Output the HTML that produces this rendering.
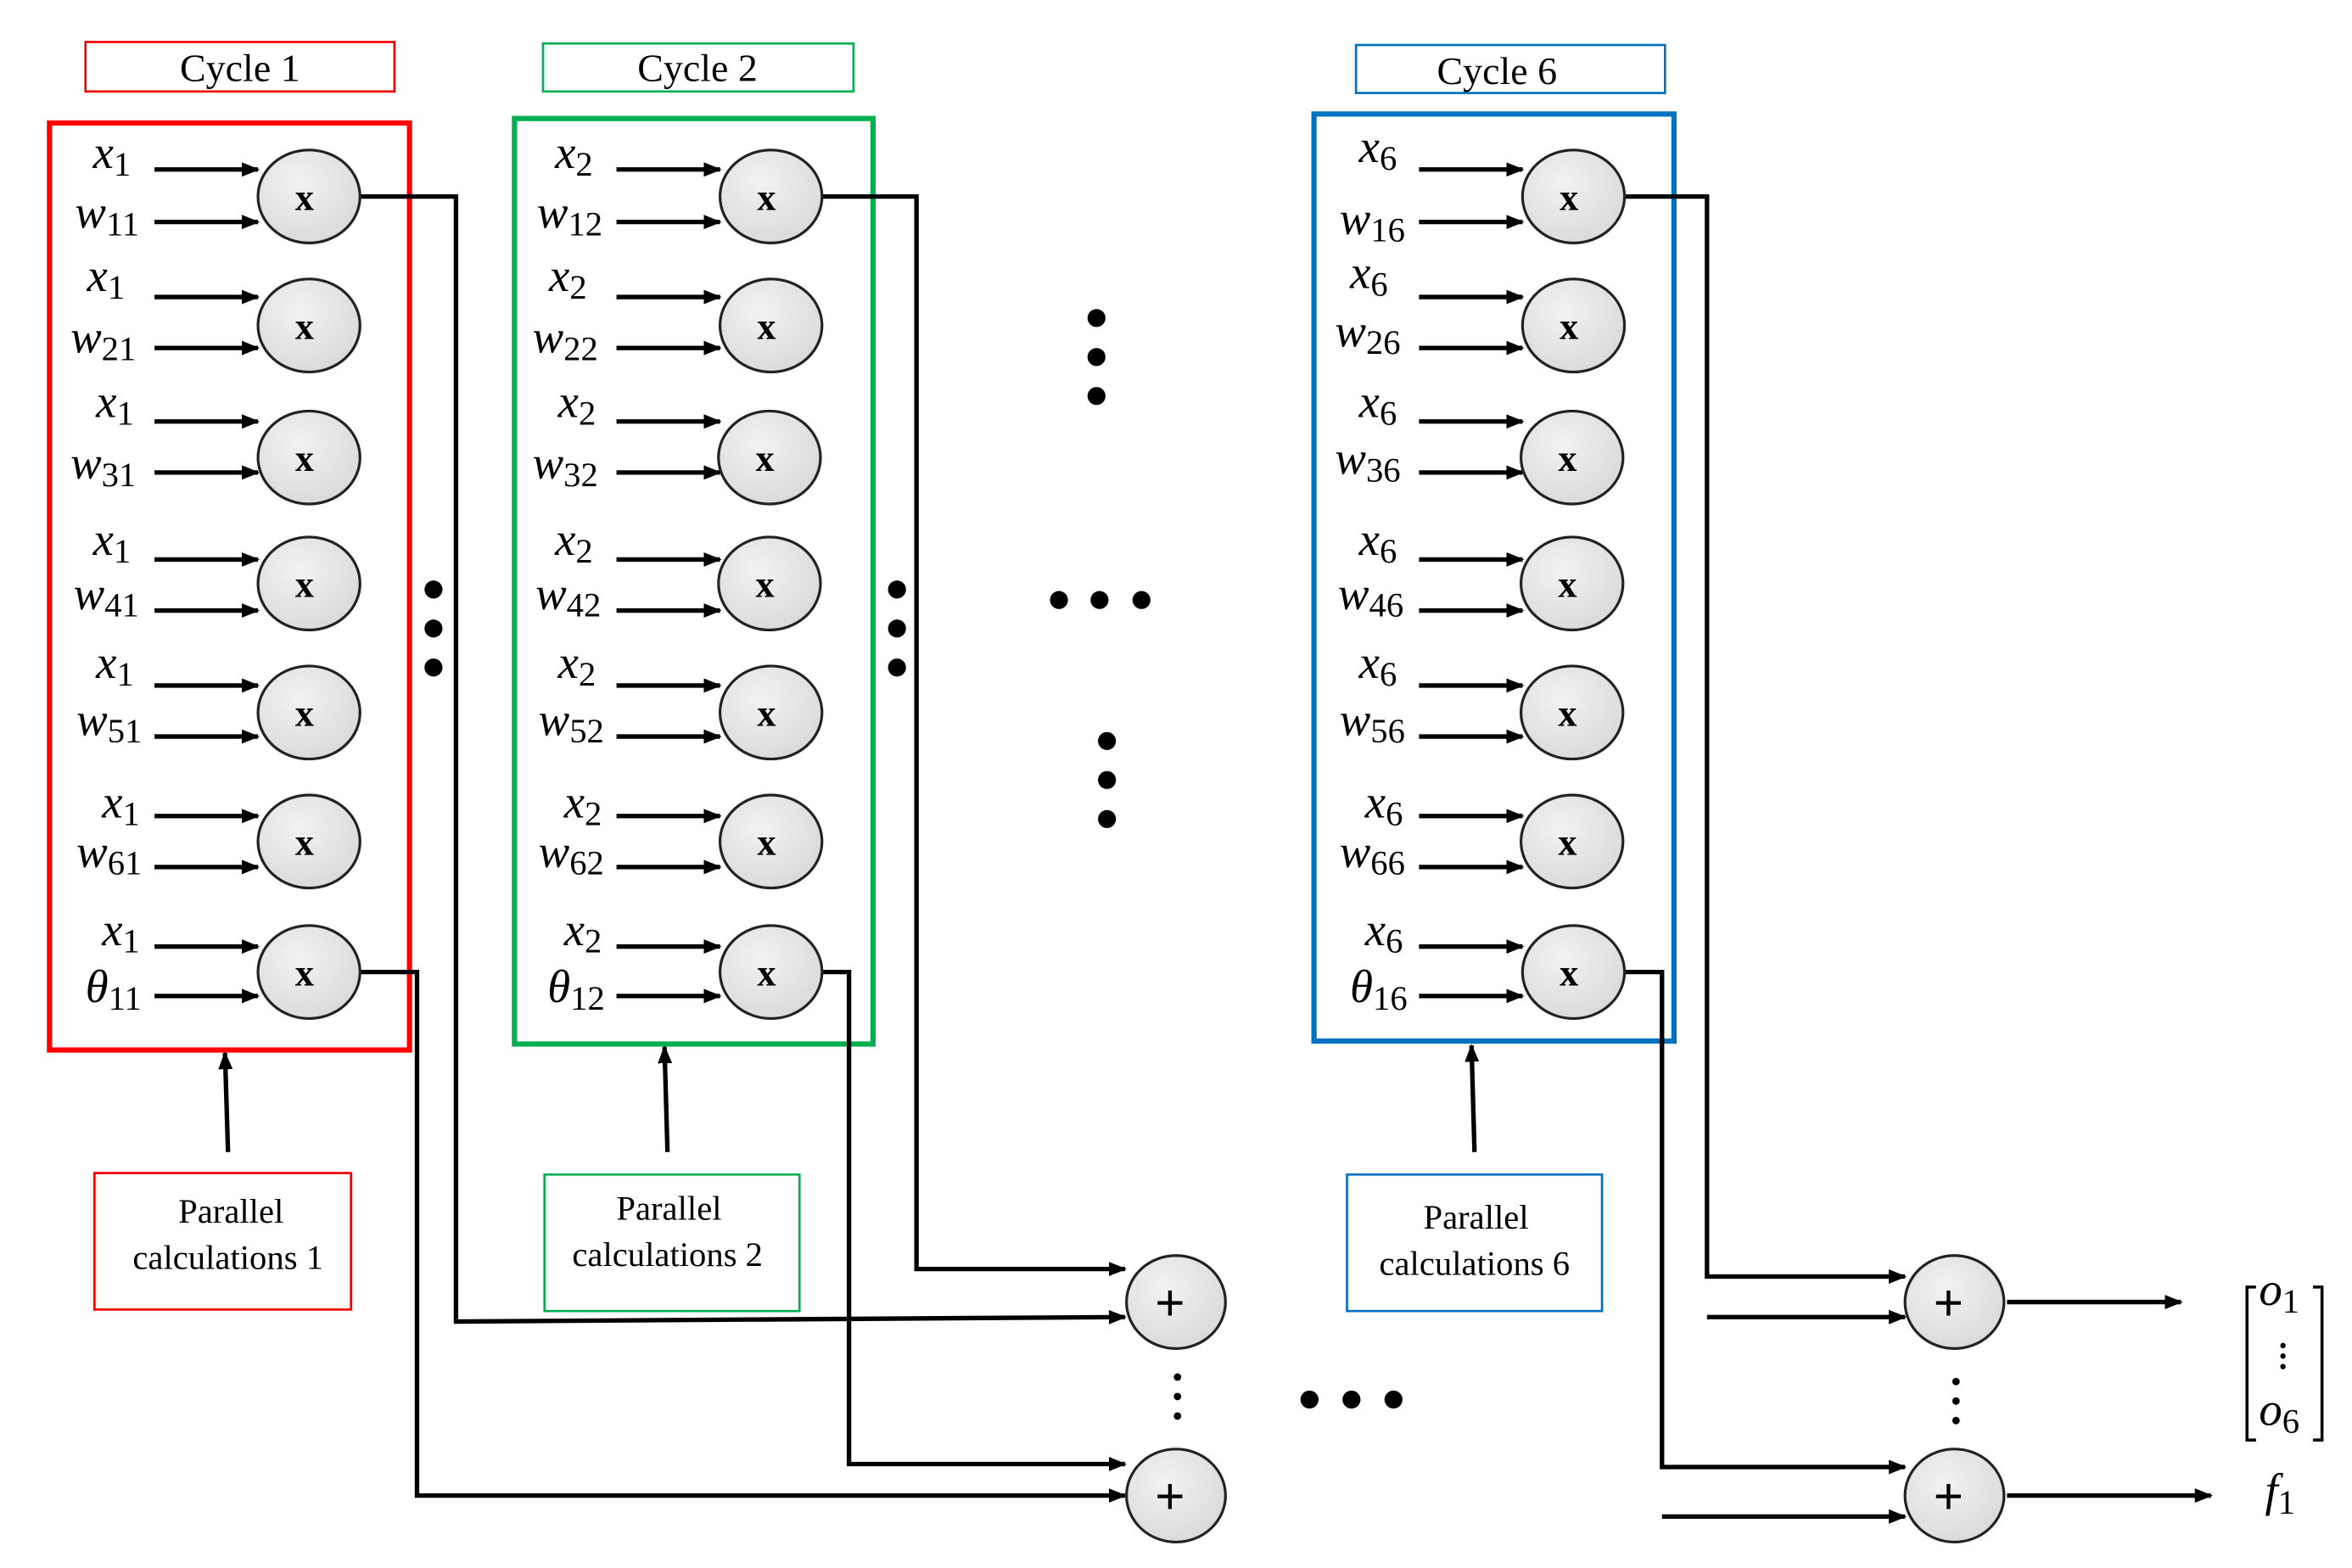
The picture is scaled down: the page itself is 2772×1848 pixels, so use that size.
<!DOCTYPE html>
<html><head><meta charset="utf-8"><style>
html,body{margin:0;padding:0;background:#fff}
svg{display:block}
.lab{font-family:"Liberation Serif",serif;font-style:italic;font-size:31px;fill:#000}
.sub{font-style:normal;font-size:23px}
.mx{font-family:"Liberation Serif",serif;font-weight:bold;font-size:25px;fill:#000}
.t{font-family:"Liberation Serif",serif;font-size:26px;fill:#000}
.p{font-family:"Liberation Serif",serif;font-size:23px;fill:#000}
</style></head><body>
<svg width="2772" height="1848" viewBox="0 0 1568 1045.3" preserveAspectRatio="none" xmlns="http://www.w3.org/2000/svg">
<defs>
<marker id="a" viewBox="0 0 10 10" refX="9" refY="5" markerWidth="4" markerHeight="4" orient="auto" markerUnits="strokeWidth"><path d="M0,1 L10,5 L0,9 z" fill="#000"/></marker>
<radialGradient id="g" cx="0.4" cy="0.35" r="0.7"><stop offset="0" stop-color="#f2f2f2"/><stop offset="1" stop-color="#d9d9d9"/></radialGradient>
</defs>
<rect x="57" y="28" width="206" height="33" fill="none" stroke="#e00" stroke-width="1.5"/>
<text class="t" x="160" y="54" text-anchor="middle">Cycle 1</text>
<rect x="362" y="29" width="207" height="32" fill="none" stroke="#00b050" stroke-width="1.5"/>
<text class="t" x="465" y="54" text-anchor="middle">Cycle 2</text>
<rect x="904" y="30" width="206" height="32" fill="none" stroke="#0070c0" stroke-width="1.5"/>
<text class="t" x="998" y="56" text-anchor="middle">Cycle 6</text>
<rect x="33" y="82" width="240" height="618" fill="none" stroke="#f00" stroke-width="3.5"/>
<rect x="343" y="79" width="239" height="617" fill="none" stroke="#00b050" stroke-width="3.5"/>
<rect x="876" y="76" width="240" height="618" fill="none" stroke="#0070c0" stroke-width="3.5"/>

<g stroke="#000" stroke-width="3" marker-end="url(#a)">
<line x1="103" y1="113" x2="172" y2="113"/><line x1="103" y1="148" x2="172" y2="148"/>
<line x1="103" y1="198" x2="172" y2="198"/><line x1="103" y1="232" x2="172" y2="232"/>
<line x1="103" y1="281" x2="172" y2="281"/><line x1="103" y1="315" x2="172" y2="315"/>
<line x1="103" y1="373" x2="172" y2="373"/><line x1="103" y1="407" x2="172" y2="407"/>
<line x1="103" y1="457" x2="172" y2="457"/><line x1="103" y1="491" x2="172" y2="491"/>
<line x1="103" y1="544" x2="172" y2="544"/><line x1="103" y1="578" x2="172" y2="578"/>
<line x1="103" y1="631" x2="172" y2="631"/><line x1="103" y1="664" x2="172" y2="664"/>
<line x1="411" y1="113" x2="480" y2="113"/><line x1="411" y1="148" x2="480" y2="148"/>
<line x1="411" y1="198" x2="480" y2="198"/><line x1="411" y1="232" x2="480" y2="232"/>
<line x1="411" y1="281" x2="480" y2="281"/><line x1="411" y1="315" x2="480" y2="315"/>
<line x1="411" y1="373" x2="480" y2="373"/><line x1="411" y1="407" x2="480" y2="407"/>
<line x1="411" y1="457" x2="480" y2="457"/><line x1="411" y1="491" x2="480" y2="491"/>
<line x1="411" y1="544" x2="480" y2="544"/><line x1="411" y1="578" x2="480" y2="578"/>
<line x1="411" y1="631" x2="480" y2="631"/><line x1="411" y1="664" x2="480" y2="664"/>
<line x1="946" y1="113" x2="1015" y2="113"/><line x1="946" y1="148" x2="1015" y2="148"/>
<line x1="946" y1="198" x2="1015" y2="198"/><line x1="946" y1="232" x2="1015" y2="232"/>
<line x1="946" y1="281" x2="1015" y2="281"/><line x1="946" y1="315" x2="1015" y2="315"/>
<line x1="946" y1="373" x2="1015" y2="373"/><line x1="946" y1="407" x2="1015" y2="407"/>
<line x1="946" y1="457" x2="1015" y2="457"/><line x1="946" y1="491" x2="1015" y2="491"/>
<line x1="946" y1="544" x2="1015" y2="544"/><line x1="946" y1="578" x2="1015" y2="578"/>
<line x1="946" y1="631" x2="1015" y2="631"/><line x1="946" y1="664" x2="1015" y2="664"/>
<line x1="152" y1="768" x2="150" y2="702"/>
<line x1="445" y1="768" x2="443" y2="698"/>
<line x1="983" y1="768" x2="981" y2="697"/>
<polyline fill="none" points="240,131 304,131 304,881 750,878"/>
<polyline fill="none" points="240,648 278,648 278,997 750,997"/>
<polyline fill="none" points="548,131 611,131 611,846 750,846"/>
<polyline fill="none" points="548,648 566,648 566,976 750,976"/>
<polyline fill="none" points="1083,131 1138,131 1138,851 1270,851"/>
<polyline fill="none" points="1083,648 1108,648 1108,978 1270,978"/>
<line x1="1138" y1="878" x2="1270" y2="878"/>
<line x1="1108" y1="1011" x2="1270" y2="1011"/>
<line x1="1338" y1="868" x2="1454" y2="868"/>
<line x1="1338" y1="997" x2="1474" y2="997"/>
</g>

<g fill="url(#g)" stroke="#222" stroke-width="1.8">
<ellipse cx="206" cy="131" rx="34" ry="31"/><ellipse cx="206" cy="217" rx="34" ry="31"/><ellipse cx="206" cy="305" rx="34" ry="31"/><ellipse cx="206" cy="389" rx="34" ry="31"/><ellipse cx="206" cy="475" rx="34" ry="31"/><ellipse cx="206" cy="561" rx="34" ry="31"/><ellipse cx="206" cy="648" rx="34" ry="31"/>
<ellipse cx="514" cy="131" rx="34" ry="31"/><ellipse cx="514" cy="217" rx="34" ry="31"/><ellipse cx="513" cy="305" rx="34" ry="31"/><ellipse cx="513" cy="389" rx="34" ry="31"/><ellipse cx="514" cy="475" rx="34" ry="31"/><ellipse cx="514" cy="561" rx="34" ry="31"/><ellipse cx="514" cy="648" rx="34" ry="31"/>
<ellipse cx="1049" cy="131" rx="34" ry="31"/><ellipse cx="1049" cy="217" rx="34" ry="31"/><ellipse cx="1048" cy="305" rx="34" ry="31"/><ellipse cx="1048" cy="389" rx="34" ry="31"/><ellipse cx="1048" cy="475" rx="34" ry="31"/><ellipse cx="1048" cy="561" rx="34" ry="31"/><ellipse cx="1049" cy="648" rx="34" ry="31"/>
<ellipse cx="784" cy="868" rx="33" ry="31"/><ellipse cx="784" cy="997" rx="33" ry="31"/>
<ellipse cx="1303" cy="868" rx="33" ry="31"/><ellipse cx="1303" cy="997" rx="33" ry="31"/>
</g>
<g class="mx" text-anchor="middle">
<text x="203" y="140">x</text><text x="203" y="226">x</text><text x="203" y="314">x</text><text x="203" y="398">x</text><text x="203" y="484">x</text><text x="203" y="570">x</text><text x="203" y="657">x</text>
<text x="511" y="140">x</text><text x="511" y="226">x</text><text x="510" y="314">x</text><text x="510" y="398">x</text><text x="511" y="484">x</text><text x="511" y="570">x</text><text x="511" y="657">x</text>
<text x="1046" y="140">x</text><text x="1046" y="226">x</text><text x="1045" y="314">x</text><text x="1045" y="398">x</text><text x="1045" y="484">x</text><text x="1045" y="570">x</text><text x="1046" y="657">x</text>
</g>
<g font-family="Liberation Sans,sans-serif" font-size="34" text-anchor="middle">
<text x="780" y="880">+</text><text x="780" y="1009">+</text><text x="1299" y="880">+</text><text x="1299" y="1009">+</text>
</g>

<g class="lab">
<text x="62" y="112">x<tspan class="sub" dy="5">1</tspan></text><text x="50" y="152">w<tspan class="sub" dy="5">11</tspan></text>
<text x="58" y="194">x<tspan class="sub" dy="5">1</tspan></text><text x="47" y="235">w<tspan class="sub" dy="5">21</tspan></text>
<text x="64" y="278">x<tspan class="sub" dy="5">1</tspan></text><text x="47" y="319">w<tspan class="sub" dy="5">31</tspan></text>
<text x="62" y="370">x<tspan class="sub" dy="5">1</tspan></text><text x="49" y="406">w<tspan class="sub" dy="5">41</tspan></text>
<text x="64" y="452">x<tspan class="sub" dy="5">1</tspan></text><text x="51" y="490">w<tspan class="sub" dy="5">51</tspan></text>
<text x="68" y="545">x<tspan class="sub" dy="5">1</tspan></text><text x="51" y="578">w<tspan class="sub" dy="5">61</tspan></text>
<text x="68" y="630">x<tspan class="sub" dy="5">1</tspan></text><text x="57" y="668">θ<tspan class="sub" dy="5">11</tspan></text>
<text x="370" y="112">x<tspan class="sub" dy="5">2</tspan></text><text x="358" y="152">w<tspan class="sub" dy="5">12</tspan></text>
<text x="366" y="194">x<tspan class="sub" dy="5">2</tspan></text><text x="355" y="235">w<tspan class="sub" dy="5">22</tspan></text>
<text x="372" y="278">x<tspan class="sub" dy="5">2</tspan></text><text x="355" y="319">w<tspan class="sub" dy="5">32</tspan></text>
<text x="370" y="370">x<tspan class="sub" dy="5">2</tspan></text><text x="357" y="406">w<tspan class="sub" dy="5">42</tspan></text>
<text x="372" y="452">x<tspan class="sub" dy="5">2</tspan></text><text x="359" y="490">w<tspan class="sub" dy="5">52</tspan></text>
<text x="376" y="545">x<tspan class="sub" dy="5">2</tspan></text><text x="359" y="578">w<tspan class="sub" dy="5">62</tspan></text>
<text x="376" y="630">x<tspan class="sub" dy="5">2</tspan></text><text x="365" y="668">θ<tspan class="sub" dy="5">12</tspan></text>
<text x="906" y="108">x<tspan class="sub" dy="5">6</tspan></text><text x="893" y="156">w<tspan class="sub" dy="5">16</tspan></text>
<text x="900" y="192">x<tspan class="sub" dy="5">6</tspan></text><text x="890" y="231">w<tspan class="sub" dy="5">26</tspan></text>
<text x="906" y="278">x<tspan class="sub" dy="5">6</tspan></text><text x="890" y="316">w<tspan class="sub" dy="5">36</tspan></text>
<text x="906" y="370">x<tspan class="sub" dy="5">6</tspan></text><text x="892" y="406">w<tspan class="sub" dy="5">46</tspan></text>
<text x="906" y="452">x<tspan class="sub" dy="5">6</tspan></text><text x="893" y="490">w<tspan class="sub" dy="5">56</tspan></text>
<text x="910" y="545">x<tspan class="sub" dy="5">6</tspan></text><text x="893" y="578">w<tspan class="sub" dy="5">66</tspan></text>
<text x="910" y="630">x<tspan class="sub" dy="5">6</tspan></text><text x="900" y="668">θ<tspan class="sub" dy="5">16</tspan></text>
<text x="1506" y="870">o<tspan class="sub" dy="5">1</tspan></text>
<text x="1506" y="950">o<tspan class="sub" dy="5">6</tspan></text>
<text x="1510" y="1004">f<tspan class="sub" dy="5">1</tspan></text>
</g>
<g fill="none" stroke="#000" stroke-width="2">
<polyline points="1504,858 1498,858 1498,960 1504,960"/>
<polyline points="1542,858 1548,858 1548,960 1542,960"/>
</g>
<g fill="#000">
<circle cx="1522" cy="897" r="1.8"/><circle cx="1522" cy="904" r="1.8"/><circle cx="1522" cy="911" r="1.8"/>
</g>

<g fill="#000">
<circle cx="289" cy="393" r="6"/><circle cx="289" cy="419" r="6"/><circle cx="289" cy="445" r="6"/>
<circle cx="598" cy="393" r="6"/><circle cx="598" cy="419" r="6"/><circle cx="598" cy="445" r="6"/>
<circle cx="731" cy="212" r="6"/><circle cx="731" cy="238" r="6"/><circle cx="731" cy="264" r="6"/>
<circle cx="706" cy="400" r="6"/><circle cx="733" cy="400" r="6"/><circle cx="761" cy="400" r="6"/>
<circle cx="738" cy="494" r="6"/><circle cx="738" cy="520" r="6"/><circle cx="738" cy="546" r="6"/>
<circle cx="873" cy="933" r="6"/><circle cx="901" cy="933" r="6"/><circle cx="929" cy="933" r="6"/>
<circle cx="785" cy="918" r="2.5"/><circle cx="785" cy="931" r="2.5"/><circle cx="785" cy="944" r="2.5"/>
<circle cx="1304" cy="921" r="2.5"/><circle cx="1304" cy="934" r="2.5"/><circle cx="1304" cy="947" r="2.5"/>
</g>

<rect x="63" y="782" width="171" height="91" fill="none" stroke="#e00" stroke-width="1.5"/>
<text class="p" x="154" y="815" text-anchor="middle">Parallel</text>
<text class="p" x="152" y="846" text-anchor="middle">calculations 1</text>
<rect x="363" y="783" width="170" height="91" fill="none" stroke="#00b050" stroke-width="1.5"/>
<text class="p" x="446" y="813" text-anchor="middle">Parallel</text>
<text class="p" x="445" y="844" text-anchor="middle">calculations 2</text>
<rect x="898" y="783" width="170" height="91" fill="none" stroke="#0070c0" stroke-width="1.5"/>
<text class="p" x="984" y="819" text-anchor="middle">Parallel</text>
<text class="p" x="983" y="850" text-anchor="middle">calculations 6</text>
</svg>
</body></html>
